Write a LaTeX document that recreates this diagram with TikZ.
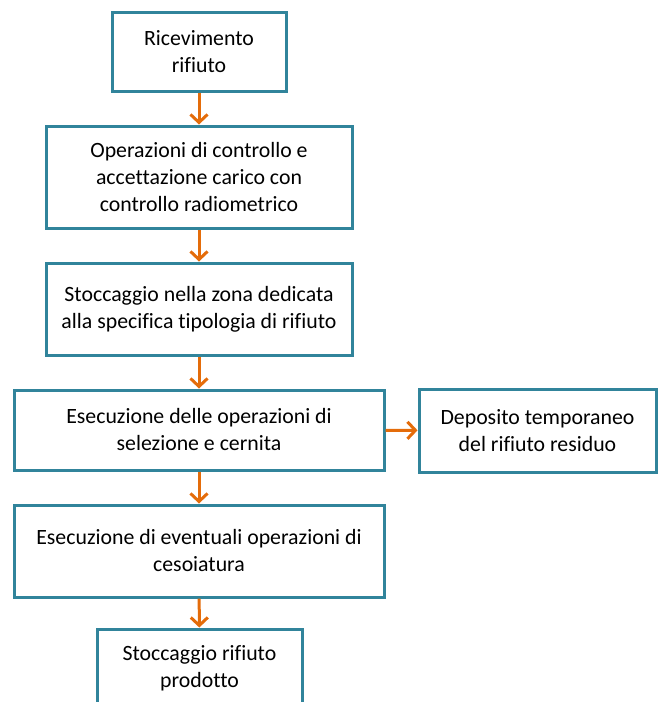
\documentclass[tikz,border=0pt]{standalone}
\usepackage{fontspec}
\setmainfont{Carlito}[Ligatures=NoCommon]
\usetikzlibrary{arrows.meta,positioning}
\definecolor{bordo}{RGB}{49,132,155}
\definecolor{freccia}{RGB}{228,108,10}
\tikzset{
  box/.style={draw=bordo, line width=3pt, fill=white, align=center, inner sep=0pt,
    font=\fontsize{21.8}{27}\selectfont},
  freccia/.style={draw=freccia, line width=3pt, -{Straight Barb[length=8pt,width=17pt,line width=3pt]}}
}
\begin{document}
\begin{tikzpicture}[x=1pt,y=-1pt]
    \useasboundingbox (0,0) rectangle (659,702);
    \clip (0,0) rectangle (659,702);
    \node[box, minimum width=174pt, minimum height=79pt] (ricevimento) at (199,51.5) {Ricevimento\\rifiuto};
    \node[box, minimum width=306pt, minimum height=102pt] (controllo) at (199,177) {Operazioni di controllo e\\accettazione carico con\\controllo radiometrico};
    \node[box, minimum width=306pt, minimum height=92pt] (stoccaggio) at (199,309) {Stoccaggio nella zona dedicata\\alla specifica tipologia di rifiuto};
    \node[box, minimum width=370pt, minimum height=80pt] (selezione) at (199,430) {Esecuzione delle operazioni di\\selezione e cernita};
    \node[box, minimum width=237pt, minimum height=83pt] (deposito) at (537.5,430.5) {Deposito temporaneo\\del rifiuto residuo};
    \node[box, minimum width=370pt, minimum height=92pt] (cesoiatura) at (199,551) {Esecuzione di eventuali operazioni di\\cesoiatura};
    \node[box, minimum width=205pt, minimum height=79pt] (prodotto) at (199.5,668.5) {Stoccaggio rifiuto\\prodotto};
    % frecce
    \draw[freccia] (ricevimento) -- (controllo);
    \draw[freccia] (controllo) -- (stoccaggio);
    \draw[freccia] (stoccaggio) -- (selezione);
    \draw[freccia] (selezione) -- (deposito);
    \draw[freccia] (selezione) -- (cesoiatura);
    \draw[freccia] (cesoiatura) -- (prodotto);
\end{tikzpicture}
\end{document}
